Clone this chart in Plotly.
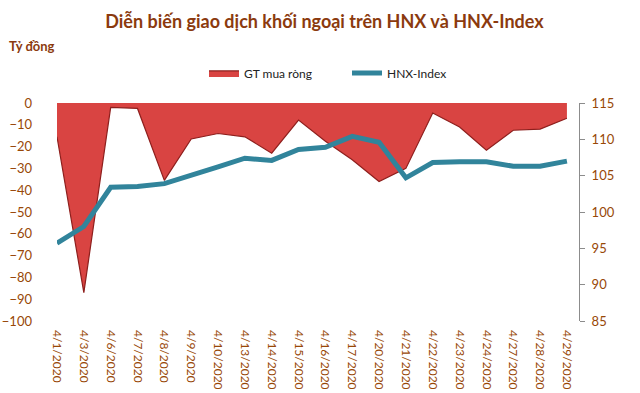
import plotly.graph_objects as go

dates = ["4/1/2020", "4/3/2020", "4/6/2020", "4/7/2020", "4/8/2020", "4/9/2020",
         "4/10/2020", "4/13/2020", "4/14/2020", "4/15/2020", "4/16/2020", "4/17/2020",
         "4/20/2020", "4/21/2020", "4/22/2020", "4/23/2020", "4/24/2020", "4/27/2020",
         "4/28/2020", "4/29/2020"]
gt_mua_rong = [-15.5, -87, -2, -2.5, -35.5, -16.5, -14, -15.5, -23, -7.8,
               -17.5, -26, -36, -30, -4.6, -11, -21.7, -12.5, -12, -7]
hnx_index = [95.7, 98.0, 103.4, 103.5, 103.9, 105.0, 106.2, 107.4, 107.1, 108.6,
             108.9, 110.4, 109.6, 104.7, 106.8, 106.9, 106.9, 106.3, 106.3, 107.0]

left_ticks = list(range(-100, 1, 10))
right_ticks = list(range(85, 116, 5))

BROWN = "#984807"
FONT = "Lato"

fig = go.Figure()
fig.add_trace(go.Scatter(
    x=dates, y=gt_mua_rong, name="GT mua ròng", mode="lines",
    fill="tozeroy", fillcolor="#D94442",
    line=dict(color="#8E1F1D", width=1.2), yaxis="y"))
fig.add_trace(go.Scatter(
    x=dates, y=hnx_index, name="HNX-Index", mode="lines",
    line=dict(color="#31849B", width=5), yaxis="y2"))

fig.update_layout(
    width=640, height=393,
    margin=dict(l=57, r=61, t=103, b=72),
    paper_bgcolor="white", plot_bgcolor="white",
    font=dict(family=FONT, color=BROWN, size=12),
    title=dict(text="<b>Diễn biến giao dịch khối ngoại trên HNX và HNX-Index</b>",
               x=0.507, xanchor="center", y=0.945, yanchor="middle",
               font=dict(family=FONT, size=18, color="#8B3A0E")),
    showlegend=True,
    legend=dict(orientation="h", x=(204 - 57) / 522, xanchor="left", y=1.138, yanchor="middle",
                font=dict(family=FONT, size=12, color="#222222"),
                entrywidth=98, itemwidth=30, tracegroupgap=0, bgcolor="rgba(0,0,0,0)"),
    xaxis=dict(type="category", range=[0, len(dates) - 1 + 0.45], tickangle=90,
               showgrid=False, showline=False, zeroline=False, ticks="",
               ticklabelstandoff=8,
               tickfont=dict(family=FONT, size=12, color=BROWN), automargin=False),
    yaxis=dict(range=[-100, 0], tickvals=left_ticks, showgrid=False, zeroline=False,
               showline=False, ticks="", ticklabelstandoff=24,
               tickfont=dict(family=FONT, size=13, color=BROWN),
               automargin=False),
    yaxis2=dict(range=[85, 115], tickvals=right_ticks, overlaying="y", side="right",
                showgrid=False, zeroline=False, showline=True, linecolor="#8C8C8C",
                linewidth=1, ticks="outside", ticklen=5, tickcolor="#8C8C8C",
                ticklabelstandoff=4,
                tickfont=dict(family=FONT, size=13, color=BROWN), automargin=False),
    annotations=[dict(text="<b>Tỷ đồng</b>", xref="paper", yref="paper",
                      x=-50/522, y=(321 - 47) / 217, xanchor="left", yanchor="middle",
                      showarrow=False, font=dict(family=FONT, size=13, color="#8B3A0E"))],
)

fig.write_html("out.html")
